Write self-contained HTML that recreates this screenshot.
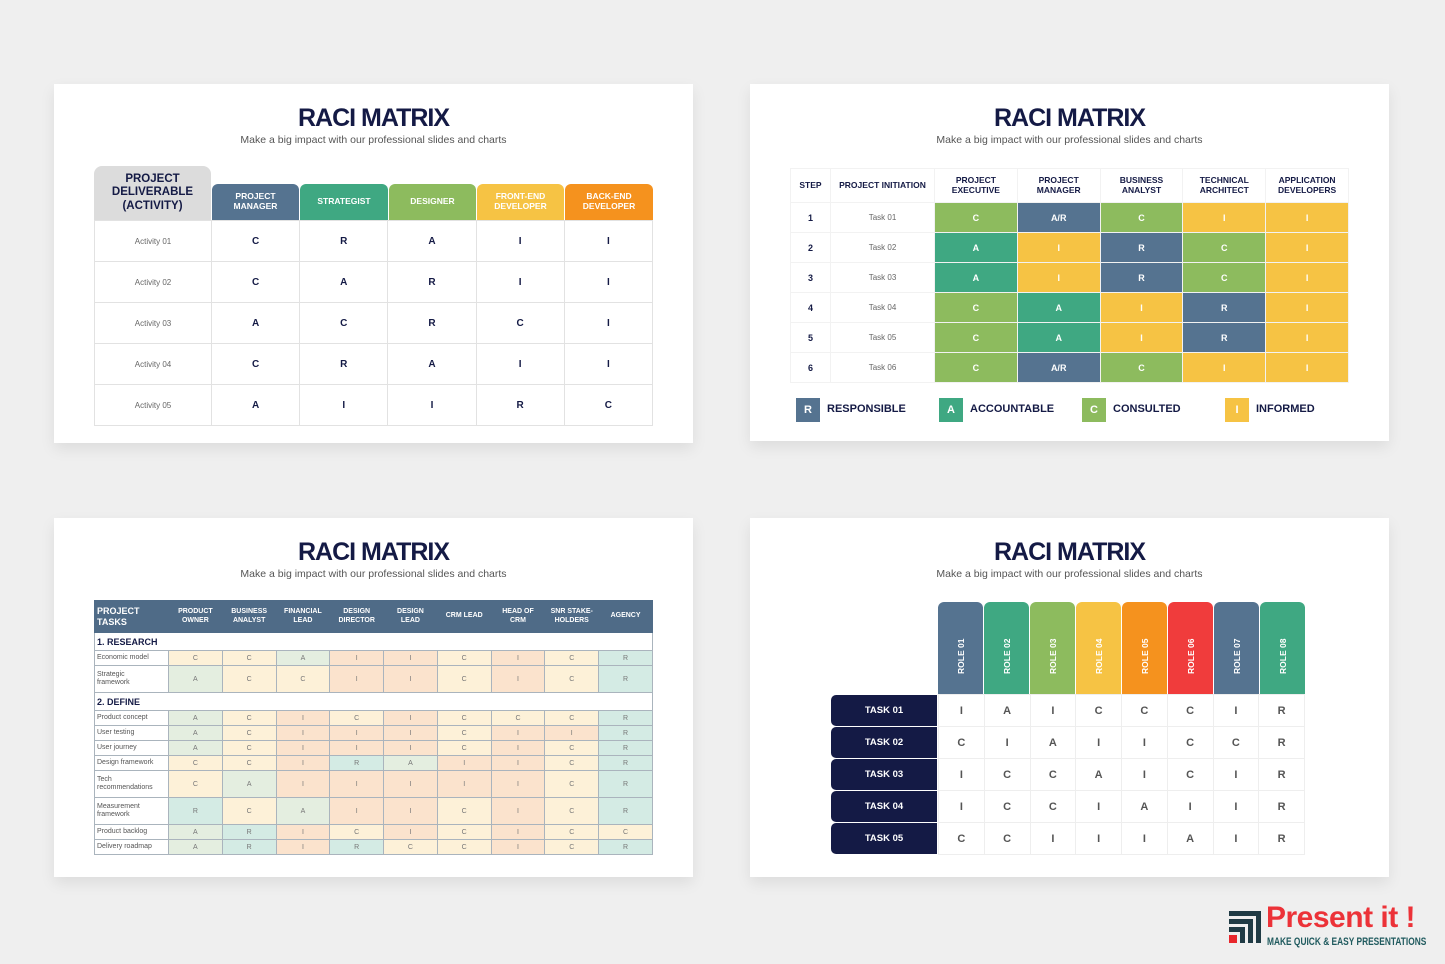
<!DOCTYPE html>
<html><head><meta charset="utf-8"><style>
*{margin:0;padding:0;box-sizing:border-box}
body{width:1445px;height:964px;background:#efefef;font-family:"Liberation Sans",sans-serif;position:relative;overflow:hidden;color:#141a45}
.card{position:absolute;background:#fff;box-shadow:0 6px 14px rgba(0,0,0,.08)}
.t{position:absolute;left:0;width:100%;text-align:center;font-weight:bold;font-size:25px;letter-spacing:-1px;color:#141a45}
.s{position:absolute;left:0;width:100%;text-align:center;font-size:10.5px;color:#555}
.a{position:absolute}
table{position:absolute;border-collapse:collapse;table-layout:fixed;text-align:center}
td{padding:0;vertical-align:middle}
.tl td{border:1.5px solid #e2e2e2;font-weight:bold;font-size:10px;height:41px}
.tl td.n{font-weight:normal;font-size:8px;color:#666}
.h{position:absolute;color:#fff;font-weight:bold;font-size:8.5px;text-align:center;display:flex;align-items:center;justify-content:center;border-radius:6px 6px 0 0;line-height:1.15}
.tr td{border:1.5px solid #f2f2f2;color:#fff;font-weight:bold;font-size:9px;height:30px}
.tr td.n{color:#666;font-weight:normal;font-size:8px}
.tr td.st{color:#141a45;font-weight:bold;font-size:9px}
.tr tr.hd td{height:34px;color:#141a45;font-size:8.5px;line-height:1.15}
.S{background:#557390}.T{background:#3fa882}.G{background:#8dbb5e}.Y{background:#f6c344}
.bl td{border:1px solid #aab4bd;font-size:7px;color:#777;height:15px}
.bl td.n{text-align:left;padding-left:2px;color:#555;font-size:7px;line-height:1.2}
.bl tr.hd td{background:#4f6b87;color:#fff;font-weight:bold;font-size:7px;height:32px;line-height:1.15;border-color:#4f6b87}
.bl tr.sec td{background:#fff;text-align:left;font-weight:bold;color:#141a45;font-size:9px;height:18px;padding-left:2px}
.bl tr.t2 td{height:27px}
.c{background:#fdf1d8}.i{background:#fbe3cd}.x{background:#e4eee0}.r{background:#d4ebe4}
.br td{border:1px solid #eee;font-weight:bold;font-size:11px;color:#555;height:32px}
.tk{position:absolute;left:831px;width:106px;height:31px;background:#141a45;color:#fff;font-weight:bold;font-size:9.5px;border-radius:5px 0 0 5px;display:flex;align-items:center;justify-content:center}
.rh{position:absolute;top:602px;width:45px;height:92px;border-radius:6px 6px 0 0}
.rh span{position:absolute;left:50%;bottom:10px;transform-origin:0 0;transform:rotate(-90deg) translate(0,-50%);color:#fff;font-weight:bold;font-size:8.5px;white-space:nowrap}
.lg{position:absolute;top:398px;width:24px;height:24px;color:#fff;font-weight:bold;font-size:11px;display:flex;align-items:center;justify-content:center}
.lt{position:absolute;top:403px;font-weight:bold;font-size:11px;color:#141a45}
</style></head><body>

<div class="card" style="left:54px;top:84px;width:639px;height:359px">
<div class="t" style="top:20px">RACI MATRIX</div><div class="s" style="top:50px">Make a big impact with our professional slides and charts</div></div>
<div class="card" style="left:750px;top:84px;width:639px;height:357px">
<div class="t" style="top:20px">RACI MATRIX</div><div class="s" style="top:50px">Make a big impact with our professional slides and charts</div></div>
<div class="card" style="left:54px;top:518px;width:639px;height:359px">
<div class="t" style="top:20px">RACI MATRIX</div><div class="s" style="top:50px">Make a big impact with our professional slides and charts</div></div>
<div class="card" style="left:750px;top:518px;width:639px;height:359px">
<div class="t" style="top:20px">RACI MATRIX</div><div class="s" style="top:50px">Make a big impact with our professional slides and charts</div></div>

<!-- TL -->
<div class="h" style="left:94px;top:166px;width:117px;height:54px;background:#dcdcdc;color:#141a45;font-size:11.5px;border-radius:8px 8px 0 0">PROJECT<br>DELIVERABLE<br>(ACTIVITY)</div>
<div class="h S" style="left:212px;top:184px;width:87px;height:36px">PROJECT<br>MANAGER</div>
<div class="h T" style="left:300px;top:184px;width:88px;height:36px">STRATEGIST</div>
<div class="h G" style="left:389px;top:184px;width:87px;height:36px">DESIGNER</div>
<div class="h Y" style="left:477px;top:184px;width:87px;height:36px">FRONT-END<br>DEVELOPER</div>
<div class="h" style="left:565px;top:184px;width:88px;height:36px;background:#f5921e">BACK-END<br>DEVELOPER</div>
<table class="tl" style="left:94px;top:220px;width:559px">
<colgroup><col style="width:117px"><col><col><col><col><col></colgroup>
<tr><td class="n">Activity 01</td><td>C</td><td>R</td><td>A</td><td>I</td><td>I</td></tr>
<tr><td class="n">Activity 02</td><td>C</td><td>A</td><td>R</td><td>I</td><td>I</td></tr>
<tr><td class="n">Activity 03</td><td>A</td><td>C</td><td>R</td><td>C</td><td>I</td></tr>
<tr><td class="n">Activity 04</td><td>C</td><td>R</td><td>A</td><td>I</td><td>I</td></tr>
<tr><td class="n">Activity 05</td><td>A</td><td>I</td><td>I</td><td>R</td><td>C</td></tr>
</table>

<!-- TR -->
<table class="tr" style="left:790px;top:168px;width:559px">
<colgroup><col style="width:40px"><col style="width:104px"><col><col><col><col><col></colgroup>
<tr class="hd"><td>STEP</td><td>PROJECT INITIATION</td><td>PROJECT<br>EXECUTIVE</td><td>PROJECT<br>MANAGER</td><td>BUSINESS<br>ANALYST</td><td>TECHNICAL<br>ARCHITECT</td><td>APPLICATION<br>DEVELOPERS</td></tr>
<tr><td class="st">1</td><td class="n">Task 01</td><td class="G">C</td><td class="S">A/R</td><td class="G">C</td><td class="Y">I</td><td class="Y">I</td></tr>
<tr><td class="st">2</td><td class="n">Task 02</td><td class="T">A</td><td class="Y">I</td><td class="S">R</td><td class="G">C</td><td class="Y">I</td></tr>
<tr><td class="st">3</td><td class="n">Task 03</td><td class="T">A</td><td class="Y">I</td><td class="S">R</td><td class="G">C</td><td class="Y">I</td></tr>
<tr><td class="st">4</td><td class="n">Task 04</td><td class="G">C</td><td class="T">A</td><td class="Y">I</td><td class="S">R</td><td class="Y">I</td></tr>
<tr><td class="st">5</td><td class="n">Task 05</td><td class="G">C</td><td class="T">A</td><td class="Y">I</td><td class="S">R</td><td class="Y">I</td></tr>
<tr><td class="st">6</td><td class="n">Task 06</td><td class="G">C</td><td class="S">A/R</td><td class="G">C</td><td class="Y">I</td><td class="Y">I</td></tr>
</table>
<div class="lg S" style="left:796px">R</div><div class="lt" style="left:827px">RESPONSIBLE</div>
<div class="lg T" style="left:939px">A</div><div class="lt" style="left:970px">ACCOUNTABLE</div>
<div class="lg G" style="left:1082px">C</div><div class="lt" style="left:1113px">CONSULTED</div>
<div class="lg Y" style="left:1225px">I</div><div class="lt" style="left:1256px">INFORMED</div>

<!-- BL -->
<table class="bl" style="left:94px;top:600px;width:559px">
<colgroup><col style="width:74px"><col><col><col><col><col><col><col><col><col></colgroup>
<tr class="hd"><td style="text-align:left;padding-left:2px;font-size:9px">PROJECT<br>TASKS</td><td>PRODUCT<br>OWNER</td><td>BUSINESS<br>ANALYST</td><td>FINANCIAL<br>LEAD</td><td>DESIGN<br>DIRECTOR</td><td>DESIGN<br>LEAD</td><td>CRM LEAD</td><td>HEAD OF<br>CRM</td><td>SNR STAKE-<br>HOLDERS</td><td>AGENCY</td></tr>
<tr class="sec"><td colspan="10">1. RESEARCH</td></tr>
<tr><td class="n">Economic model</td><td class="c">C</td><td class="c">C</td><td class="x">A</td><td class="i">I</td><td class="i">I</td><td class="c">C</td><td class="i">I</td><td class="c">C</td><td class="r">R</td></tr>
<tr class="t2"><td class="n">Strategic<br>framework</td><td class="x">A</td><td class="c">C</td><td class="c">C</td><td class="i">I</td><td class="i">I</td><td class="c">C</td><td class="i">I</td><td class="c">C</td><td class="r">R</td></tr>
<tr class="sec"><td colspan="10">2. DEFINE</td></tr>
<tr><td class="n">Product concept</td><td class="x">A</td><td class="c">C</td><td class="i">I</td><td class="c">C</td><td class="i">I</td><td class="c">C</td><td class="c">C</td><td class="c">C</td><td class="r">R</td></tr>
<tr><td class="n">User testing</td><td class="x">A</td><td class="c">C</td><td class="i">I</td><td class="i">I</td><td class="i">I</td><td class="c">C</td><td class="i">I</td><td class="i">I</td><td class="r">R</td></tr>
<tr><td class="n">User journey</td><td class="x">A</td><td class="c">C</td><td class="i">I</td><td class="i">I</td><td class="i">I</td><td class="c">C</td><td class="i">I</td><td class="c">C</td><td class="r">R</td></tr>
<tr><td class="n">Design framework</td><td class="c">C</td><td class="c">C</td><td class="i">I</td><td class="r">R</td><td class="x">A</td><td class="i">I</td><td class="i">I</td><td class="c">C</td><td class="r">R</td></tr>
<tr class="t2"><td class="n">Tech<br>recommendations</td><td class="c">C</td><td class="x">A</td><td class="i">I</td><td class="i">I</td><td class="i">I</td><td class="i">I</td><td class="i">I</td><td class="c">C</td><td class="r">R</td></tr>
<tr class="t2"><td class="n">Measurement<br>framework</td><td class="r">R</td><td class="c">C</td><td class="x">A</td><td class="i">I</td><td class="i">I</td><td class="c">C</td><td class="i">I</td><td class="c">C</td><td class="r">R</td></tr>
<tr><td class="n">Product backlog</td><td class="x">A</td><td class="r">R</td><td class="i">I</td><td class="c">C</td><td class="i">I</td><td class="c">C</td><td class="i">I</td><td class="c">C</td><td class="c">C</td></tr>
<tr><td class="n">Delivery roadmap</td><td class="x">A</td><td class="r">R</td><td class="i">I</td><td class="r">R</td><td class="c">C</td><td class="c">C</td><td class="i">I</td><td class="c">C</td><td class="r">R</td></tr>
</table>

<!-- BR -->
<div class="rh S" style="left:938px"><span>ROLE 01</span></div>
<div class="rh T" style="left:984px"><span>ROLE 02</span></div>
<div class="rh G" style="left:1030px"><span>ROLE 03</span></div>
<div class="rh Y" style="left:1076px"><span>ROLE 04</span></div>
<div class="rh" style="left:1122px;background:#f5921e"><span>ROLE 05</span></div>
<div class="rh" style="left:1168px;background:#f03c3c"><span>ROLE 06</span></div>
<div class="rh S" style="left:1214px"><span>ROLE 07</span></div>
<div class="rh T" style="left:1260px"><span>ROLE 08</span></div>
<div class="tk" style="top:695px">TASK 01</div>
<div class="tk" style="top:727px">TASK 02</div>
<div class="tk" style="top:759px">TASK 03</div>
<div class="tk" style="top:791px">TASK 04</div>
<div class="tk" style="top:823px">TASK 05</div>
<table class="br" style="left:938px;top:694px;width:367px">
<tr><td>I</td><td>A</td><td>I</td><td>C</td><td>C</td><td>C</td><td>I</td><td>R</td></tr>
<tr><td>C</td><td>I</td><td>A</td><td>I</td><td>I</td><td>C</td><td>C</td><td>R</td></tr>
<tr><td>I</td><td>C</td><td>C</td><td>A</td><td>I</td><td>C</td><td>I</td><td>R</td></tr>
<tr><td>I</td><td>C</td><td>C</td><td>I</td><td>A</td><td>I</td><td>I</td><td>R</td></tr>
<tr><td>C</td><td>C</td><td>I</td><td>I</td><td>I</td><td>A</td><td>I</td><td>R</td></tr>
</table>

<!-- logo -->
<svg class="a" style="left:1227px;top:909px" width="36" height="36" viewBox="0 0 36 36">
<path d="M2 2H34V34H29V7H2Z" fill="#1f3a44"/><path d="M2 10H26V34H21V15H2Z" fill="#1f3a44"/><path d="M2 18H18V34H13V23H2Z" fill="#1f3a44"/><rect x="2" y="26" width="8" height="8" fill="#e8262c"/></svg>
<div class="a" style="left:1266px;top:901px;font-size:30px;font-weight:bold;color:#ec3238;letter-spacing:-0.5px">Present it !</div>
<div class="a" style="left:1267px;top:936px;font-size:11px;font-weight:bold;color:#1f5a5e;transform:scaleX(.76);transform-origin:0 0;white-space:nowrap">MAKE QUICK &amp; EASY PRESENTATIONS</div>
</body></html>
